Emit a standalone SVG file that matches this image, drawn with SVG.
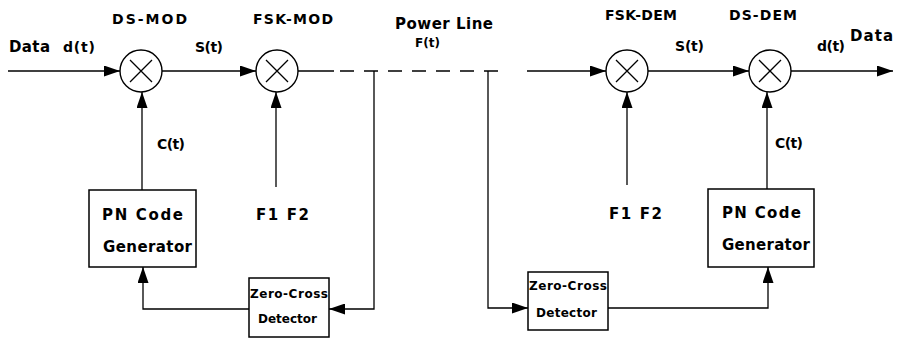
<svg xmlns="http://www.w3.org/2000/svg" width="899" height="341" viewBox="0 0 899 341">
<style>
  .ln { fill: none; stroke: #000; stroke-width: 1.3; }
  .box { fill: #fff; stroke: #000; stroke-width: 1.5; }
  .mix { fill: #fff; stroke: #000; stroke-width: 1.4; }
  .t { font-family: "DejaVu Sans", "Liberation Sans", sans-serif; font-weight: bold; font-size: 15px; fill: #000; }
  .h { font-family: "DejaVu Sans", "Liberation Sans", sans-serif; font-weight: bold; font-size: 14px; fill: #000; }
  .m { font-family: "DejaVu Sans", "Liberation Sans", sans-serif; font-weight: bold; font-size: 14px; fill: #000; }
  .s { font-family: "DejaVu Sans", "Liberation Sans", sans-serif; font-weight: bold; font-size: 12px; fill: #000; }
</style>
<defs>
  <marker id="ah" viewBox="0 0 16 11" refX="16" refY="5.5" markerWidth="16" markerHeight="11" orient="auto" markerUnits="userSpaceOnUse">
    <path d="M0,0 L16,5.5 L0,11 z" fill="#000"/>
  </marker>
</defs>

<g id="connectors">
  <path class="ln" d="M8,71 H120" marker-end="url(#ah)"/>
  <path class="ln" d="M162,71 H256" marker-end="url(#ah)"/>
  <path class="ln" d="M142,190 V92" marker-end="url(#ah)"/>
  <path class="ln" d="M276,187 V92" marker-end="url(#ah)"/>
  <path class="ln" d="M298,71 H334"/>
  <path class="ln" d="M340,71 H507" stroke-dasharray="14 10"/>
  <path class="ln" d="M527,71 H606" marker-end="url(#ah)"/>
  <path class="ln" d="M374,71 V309 H329" marker-end="url(#ah)"/>
  <path class="ln" d="M249,309 H143 V267" marker-end="url(#ah)"/>
  <path class="ln" d="M488,71 V308 H528" marker-end="url(#ah)"/>
  <path class="ln" d="M608,308 H768 V267" marker-end="url(#ah)"/>
  <path class="ln" d="M767,189 V92" marker-end="url(#ah)"/>
  <path class="ln" d="M627,185 V92" marker-end="url(#ah)"/>
  <path class="ln" d="M648,71 H749" marker-end="url(#ah)"/>
  <path class="ln" d="M791,71 H893" marker-end="url(#ah)"/>
</g>

<g id="ds-mod">
  <circle class="mix" cx="141" cy="71" r="21"/>
  <path class="ln" d="M130,60 L152,82 M152,60 L130,82"/>
  <text class="h" x="112" y="24" textLength="75" lengthAdjust="spacing">DS-MOD</text>
</g>
<g id="fsk-mod">
  <circle class="mix" cx="277" cy="71" r="21"/>
  <path class="ln" d="M266,60 L288,82 M288,60 L266,82"/>
  <text class="h" x="253" y="24" textLength="80" lengthAdjust="spacing">FSK-MOD</text>
</g>
<g id="fsk-dem">
  <circle class="mix" cx="627" cy="71" r="21"/>
  <path class="ln" d="M616,60 L638,82 M638,60 L616,82"/>
  <text class="h" x="605" y="20" textLength="72" lengthAdjust="spacing">FSK-DEM</text>
</g>
<g id="ds-dem">
  <circle class="mix" cx="770" cy="71" r="21"/>
  <path class="ln" d="M759,60 L781,82 M781,60 L759,82"/>
  <text class="h" x="729" y="20" textLength="68" lengthAdjust="spacing">DS-DEM</text>
</g>

<g id="pn-gen-1">
  <rect class="box" x="89" y="190" width="107" height="77"/>
  <text class="t" x="102" y="220" textLength="81" lengthAdjust="spacing">PN Code</text>
  <text class="t" x="103" y="252" textLength="89" lengthAdjust="spacing">Generator</text>
</g>
<g id="zc-det-1">
  <rect class="box" x="249" y="278" width="80" height="59"/>
  <text class="s" x="250" y="298" textLength="78" lengthAdjust="spacing">Zero-Cross</text>
  <text class="s" x="258" y="323" textLength="59" lengthAdjust="spacing">Detector</text>
</g>
<g id="zc-det-2">
  <rect class="box" x="528" y="272" width="80" height="58"/>
  <text class="s" x="529" y="290" textLength="78" lengthAdjust="spacing">Zero-Cross</text>
  <text class="s" x="536" y="317" textLength="61" lengthAdjust="spacing">Detector</text>
</g>
<g id="pn-gen-2">
  <rect class="box" x="708" y="189" width="106" height="78"/>
  <text class="t" x="722" y="218" textLength="79" lengthAdjust="spacing">PN Code</text>
  <text class="t" x="722" y="250" textLength="88" lengthAdjust="spacing">Generator</text>
</g>

<g id="labels">
  <text class="t" x="9" y="52" textLength="41" lengthAdjust="spacing">Data</text>
  <text class="m" x="63" y="52" textLength="32" lengthAdjust="spacing">d(t)</text>
  <text class="m" x="195" y="52" textLength="28" lengthAdjust="spacing">S(t)</text>
  <text class="t" x="395" y="29" textLength="98" lengthAdjust="spacing">Power Line</text>
  <text class="s" x="415" y="47" textLength="25" lengthAdjust="spacing">F(t)</text>
  <text class="m" x="675" y="51" textLength="29" lengthAdjust="spacing">S(t)</text>
  <text class="m" x="817" y="51" textLength="28" lengthAdjust="spacing">d(t)</text>
  <text class="t" x="850" y="41" textLength="43" lengthAdjust="spacing">Data</text>
  <text class="m" x="157" y="149" textLength="28" lengthAdjust="spacing">C(t)</text>
  <text class="m" x="775" y="148" textLength="28" lengthAdjust="spacing">C(t)</text>
  <text class="t" x="256" y="220" textLength="53" lengthAdjust="spacing">F1 F2</text>
  <text class="t" x="609" y="219" textLength="53" lengthAdjust="spacing">F1 F2</text>
</g>
</svg>
